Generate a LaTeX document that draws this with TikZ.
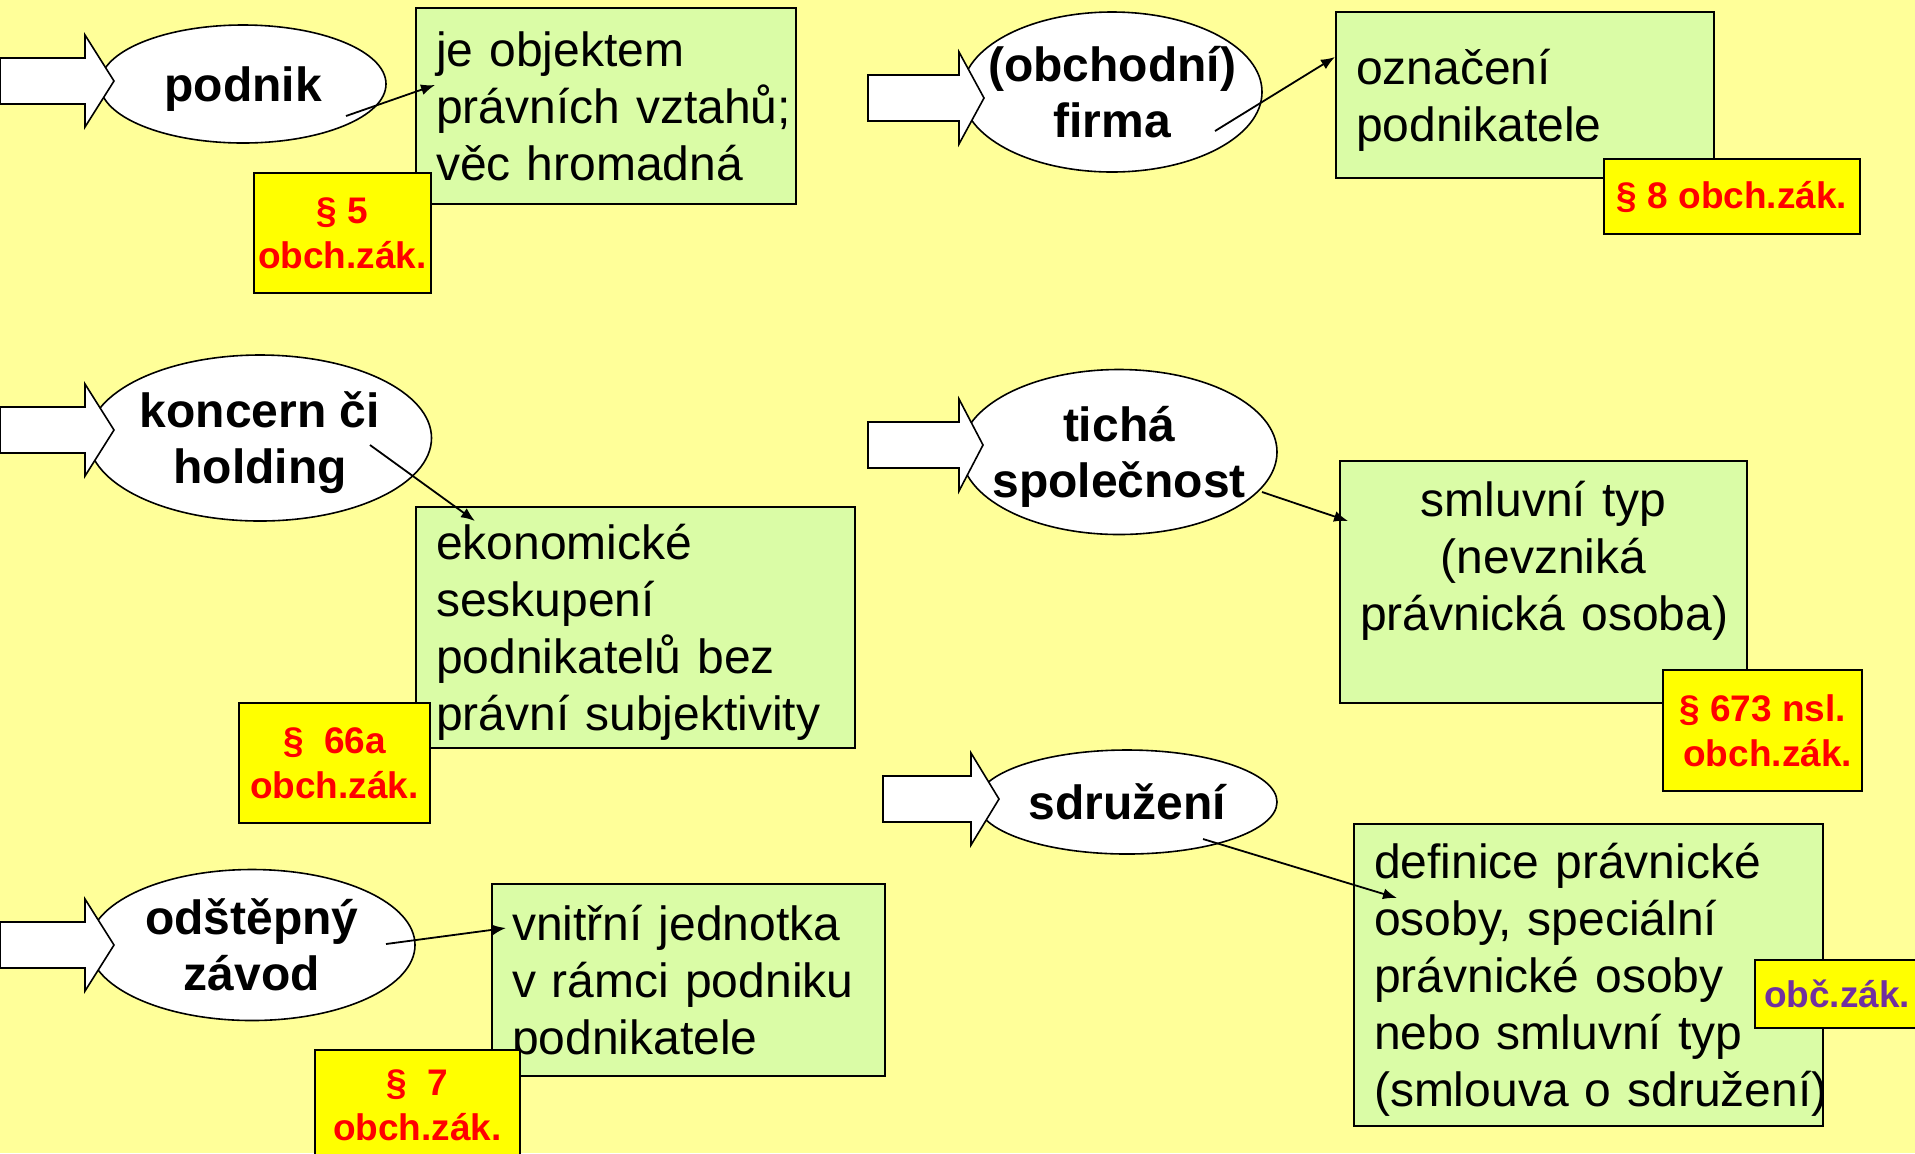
\documentclass[tikz,border=0pt]{standalone}
\usepackage{fontspec}
\setmainfont{Liberation Sans}
\usetikzlibrary{positioning, shapes.geometric, arrows.meta}
\definecolor{bgyellow}{RGB}{255,255,153}
\definecolor{notegreen}{RGB}{218,252,166}
\definecolor{lawyellow}{RGB}{255,255,0}
\definecolor{lawred}{RGB}{255,0,0}
\definecolor{lawpurple}{RGB}{112,48,160}
\hyphenpenalty=10000
\exhyphenpenalty=10000

\begin{document}
\begin{tikzpicture}[x=0.5pt, y=-0.5pt, >={Latex[length=7pt,width=5.5pt]},
    term/.style={draw, ellipse, fill=white, line width=0.8pt, inner sep=-60pt, align=center,
      font=\fontsize{24}{28}\selectfont\bfseries},
    note/.style={draw, fill=notegreen, line width=1pt, anchor=north west, inner xsep=10pt, align=left,
      text height=22.5pt, font=\fontsize{24}{28.5}\selectfont},
    law/.style={draw, fill=lawyellow, line width=1pt, inner sep=0pt, align=center, text=lawred,
      font=\fontsize{18.5}{22.5}\selectfont\bfseries},
    link/.style={->, line width=0.9pt}]
  \clip (0,0) rectangle (1915,1153);
  \fill[bgyellow] (0,0) rectangle (1915,1153);

  % definitions
  \node[note, text width=170pt, minimum height=98pt, text height=17.5pt] (objekt) at (415,7) {je objektem\\právních~vztahů;\\věc hromadná};
  \node[note, text width=169pt, minimum height=83pt] (oznaceni) at (1335,11) {označení\\podnikatele};
  \node[note, text width=199.5pt, minimum height=120.5pt] (seskupeni) at (415,506) {ekonomické\\seskupení\\podnikatelů bez\\právní~subjektivity};
  \node[note, text width=183.5pt, minimum height=121pt, align=center, text height=17.5pt, text depth=83pt] (smluvni) at (1339,460) {smluvní typ\\(nevzniká\\právnická~osoba)};
  \node[note, text width=214.5pt, minimum height=151pt] (definice) at (1353,823) {definice právnické\\osoby, speciální\\právnické osoby\\nebo smluvní typ\\(smlouva~o~sdružení)};
  \node[note, text width=176.5pt, minimum height=96pt] (jednotka) at (491,883) {vnitřní jednotka\\v rámci podniku\\podnikatele};

  % paragraphs
  \node[law, minimum width=88.5pt, minimum height=60pt] (par5) at (342.5,233) {§ 5\\obch.zák.};
  \node[law, minimum width=128pt, minimum height=37.5pt] (par8) at (1732,196.5) {§ 8 obch.zák.};
  \node[law, minimum width=95.5pt, minimum height=60pt] (par66a) at (334.5,763) {§~~66a\\obch.zák.};
  \node[law, minimum width=99.5pt, minimum height=60.5pt] (par673) at (1762.5,730.5) {§ 673 nsl.\\\ obch.zák.};
  \node[law, minimum width=82pt, minimum height=34pt, text=lawpurple] (obczak) at (1837,994) {obč.zák.};
  \node[law, minimum width=102.5pt, minimum height=55pt] (par7) at (417.5,1105) {§~~7\\obch.zák.};

  % terms
  \node[term, minimum width=143pt, minimum height=59pt, text depth=0pt] (podnik) at (243,84) {podnik};
  \node[term, minimum width=150pt, minimum height=80pt] (firma) at (1112,92) {(obchodní)\\firma};
  \node[term, minimum width=171.5pt, minimum height=83pt, text depth=0pt] (koncern) at (260,438) {koncern či\\holding};
  \node[term, minimum width=158pt, minimum height=82.5pt, text depth=0pt] (ticha) at (1119,452) {tichá\\společnost};
  \node[term, minimum width=150pt, minimum height=52pt] (sdruzeni) at (1127,802) {sdružení};
  \node[term, minimum width=163pt, minimum height=75.5pt] (zavod) at (252,945) {odštěpný\\závod};

  % block arrows
  \foreach \l/\h/\t/\c in {0/85/114/81, 868/959/984/98, 0/85/114/430, 868/959/983/445, 883/971/999/799, 0/85/114/945}
    \draw[fill=white, line width=0.8pt] (\l,\c-23) -- (\h,\c-23) -- (\h,\c-46) -- (\t,\c)
      -- (\h,\c+46) -- (\h,\c+23) -- (\l,\c+23) -- cycle;

  \draw[link] ([shift={(103,32)}]podnik.center) -- ([shift={(20,78)}]objekt.north west);
  \draw[link] ([shift={(103,39)}]firma.center) -- ([shift={(0,46)}]oznaceni.north west);
  \draw[link] ([shift={(110,7)}]koncern.center) -- ([shift={(60,15)}]seskupeni.north west);
  \draw[link] ([shift={(143,40)}]ticha.center) -- ([shift={(9,61)}]smluvni.north west);
  \draw[link] ([shift={(76,37)}]sdruzeni.center) -- ([shift={(44,75)}]definice.north west);
  \draw[link] ([shift={(134,-1)}]zavod.center) -- ([shift={(15,45)}]jednotka.north west);
\end{tikzpicture}
\end{document}
